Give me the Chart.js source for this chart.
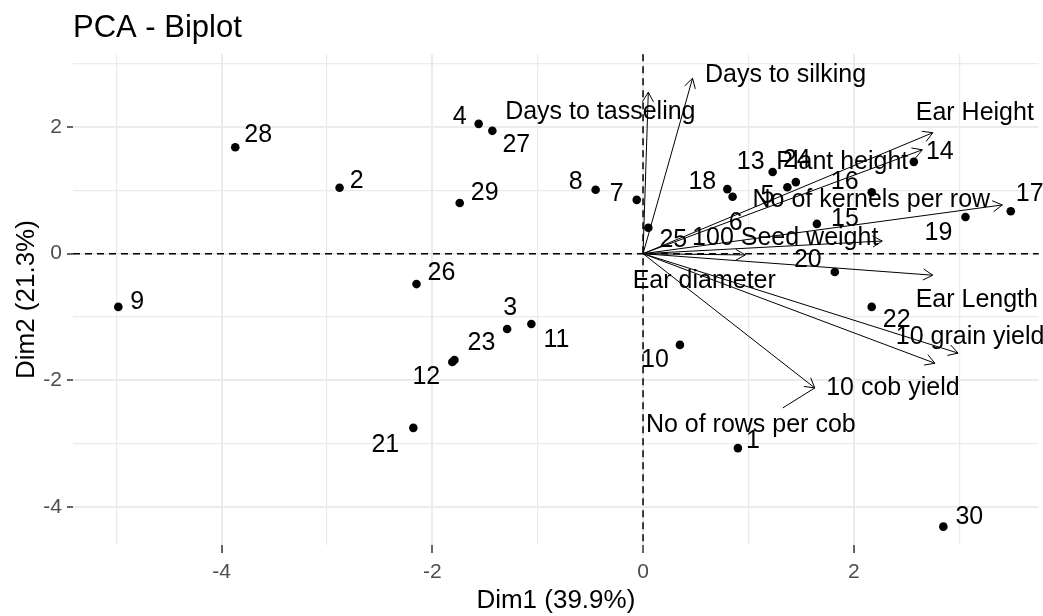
<!DOCTYPE html>
<html>
<head>
<meta charset="utf-8">
<script src="https://cdn.jsdelivr.net/npm/chart.js@4.4.0/dist/chart.umd.min.js"></script>
<style>
  html, body { margin: 0; padding: 0; background: #fff; }
</style>
</head>
<body>
<canvas id="myChart" width="1043" height="616"></canvas>
<script>
// individuos (coordenadas en Dim1 / Dim2)
const ids  = ["1","2","3","4","5","6","7","8","9","10","11","12","13","14","15",
              "16","17","18","19","20","21","22","23","24","25","26","27","28","29","30"];
const dim1 = [0.90,-2.88,-1.29,-1.56,1.37,0.85,-0.06,-0.45,-4.98,0.35,-1.06,-1.81,1.23,2.57,1.65,
              2.17,3.49,0.80,3.06,1.82,-2.18,2.17,-1.79,1.45,0.05,-2.15,-1.43,-3.87,-1.74,2.85];
const dim2 = [-3.07,1.04,-1.19,2.05,1.05,0.90,0.85,1.01,-0.84,-1.44,-1.11,-1.71,1.29,1.45,0.47,
              0.97,0.67,1.02,0.58,-0.29,-2.75,-0.84,-1.68,1.13,0.41,-0.48,1.94,1.68,0.80,-4.31];

// variables (flechas)
const variables = ["Days to tasseling","Days to silking","Ear Height","Plant height",
                   "No of kernels per row","100 Seed weight","Ear diameter","Ear Length",
                   "10 grain yield","10 cob yield","No of rows per cob"];
const varDim1 = [0.05,0.47,2.75,2.65,3.41,2.27,0.97,2.75,2.99,2.77,1.63];
const varDim2 = [2.55,2.77,1.91,1.64,0.77,0.20,-0.02,-0.34,-1.57,-1.73,-2.12];

// etiquetas de los ejes
const xTicks = [-4,-2,0,2];
const yTicks = [-4,-2,0,2];

// desplazamiento de cada etiqueta (px) respecto a su punto, como en ggrepel
const offInd = {
  "1":[15,-7],"2":[17,-7],"3":[3,-21],"4":[-19,-7],"5":[-20,9],"6":[3,26],"7":[-20,-6],
  "8":[-20,-8],"9":[19,-5],"10":[-25,15],"11":[25,16],"12":[-26,15],"13":[-22,-10],
  "14":[26,-10],"15":[28,-5],"16":[-27,-10],"17":[19,-17],"18":[-25,-7],"19":[-27,16],
  "20":[-27,-12],"21":[-28,17],"22":[25,13],"23":[27,-17],"24":[1,-22],"25":[25,12],
  "26":[25,-11],"27":[24,14],"28":[23,-12],"29":[25,-10],"30":[26,-10]
};
const offVar = {
  "Days to tasseling":[-48,20],"Days to silking":[93,-3],"Ear Height":[42,-20],
  "Plant height":[-80,12],"No of kernels per row":[-131,-5],"100 Seed weight":[-97,-3],
  "Ear diameter":[-41,26],"Ear Length":[44,25],"10 grain yield":[12,-16],
  "10 cob yield":[-42,25],"No of rows per cob":[-64,37]
};
// segmento de ggrepel (inicio respecto al centro de la etiqueta)
const segVar = { "No of rows per cob":[32,-17] };

const fuente = '"Liberation Sans", Arial, sans-serif';
Chart.defaults.font.family = fuente;

const puntos = ids.map((id, i) => ({x: dim1[i], y: dim2[i]}));

// una serie por flecha: del origen a la punta
const flechas = variables.map((v, i) => ({
  type: 'line',
  label: v,
  data: [{x: 0, y: 0}, {x: varDim1[i], y: varDim2[i]}],
  borderColor: '#000',
  borderWidth: 1,
  pointRadius: 0,
  fill: false,
  tension: 0
}));

const esPar = (c) => c.tick && Math.abs(c.tick.value % 2) === 0;

const biplot = {
  id: 'biplot',
  beforeDatasetsDraw(chart) {
    const {ctx, chartArea: a, scales: {x, y}} = chart;
    const x0 = x.getPixelForValue(0), y0 = y.getPixelForValue(0);
    ctx.save();
    ctx.strokeStyle = '#000';
    ctx.lineWidth = 1.5;
    ctx.setLineDash([7, 5]);
    ctx.beginPath();
    ctx.moveTo(a.left, y0); ctx.lineTo(a.right, y0);
    ctx.moveTo(x0, a.top); ctx.lineTo(x0, a.bottom);
    ctx.stroke();
    ctx.restore();
  },
  afterDatasetsDraw(chart) {
    const {ctx, scales: {x, y}} = chart;
    const x0 = x.getPixelForValue(0), y0 = y.getPixelForValue(0);
    ctx.save();
    // puntas de flecha abiertas
    ctx.strokeStyle = '#000';
    ctx.lineWidth = 1;
    const largo = 11, ang = Math.PI / 6;
    variables.forEach((v, i) => {
      const tx = x.getPixelForValue(varDim1[i]), ty = y.getPixelForValue(varDim2[i]);
      const t = Math.atan2(ty - y0, tx - x0);
      ctx.beginPath();
      ctx.moveTo(tx - largo * Math.cos(t - ang), ty - largo * Math.sin(t - ang));
      ctx.lineTo(tx, ty);
      ctx.lineTo(tx - largo * Math.cos(t + ang), ty - largo * Math.sin(t + ang));
      ctx.stroke();
      if (segVar[v]) {
        const o = offVar[v];
        ctx.beginPath();
        ctx.moveTo(tx + o[0] + segVar[v][0], ty + o[1] + segVar[v][1]);
        ctx.lineTo(tx, ty);
        ctx.stroke();
      }
    });
    // etiquetas
    ctx.fillStyle = '#000';
    ctx.font = '25px ' + fuente;
    ctx.textAlign = 'center';
    ctx.textBaseline = 'middle';
    ids.forEach((id, i) => {
      const o = offInd[id];
      ctx.fillText(id, x.getPixelForValue(dim1[i]) + o[0], y.getPixelForValue(dim2[i]) + o[1]);
    });
    variables.forEach((v, i) => {
      const o = offVar[v];
      ctx.fillText(v, x.getPixelForValue(varDim1[i]) + o[0], y.getPixelForValue(varDim2[i]) + o[1]);
    });
    ctx.restore();
  }
};

const grafica = document.getElementById('myChart').getContext('2d');
new Chart(grafica, {
  type: 'scatter',
  data: {
    datasets: [
      {
        label: 'Individuos',
        data: puntos,
        pointRadius: 4.3,
        pointBackgroundColor: '#000',
        pointBorderWidth: 0,
        showLine: false
      },
      ...flechas
    ]
  },
  options: {
    responsive: false,
    animation: false,
    devicePixelRatio: 1,
    events: [],
    layout: { padding: 0 },
    plugins: {
      legend: { display: false },
      tooltip: { enabled: false },
      title: {
        display: true,
        text: 'PCA - Biplot',
        align: 'start',
        fullSize: false,
        color: '#000',
        font: { size: 31, weight: 'normal' },
        padding: { top: 10, bottom: 7 }
      }
    },
    scales: {
      x: {
        type: 'linear',
        min: -5.41,
        max: 3.755,
        ticks: {
          stepSize: 1,
          includeBounds: false,
          autoSkip: false,
          maxRotation: 0,
          color: '#4D4D4D',
          font: { size: 21 },
          padding: 7,
          callback: (v) => xTicks.includes(v) ? String(v) : ''
        },
        grid: {
          color: '#EBEBEB',
          lineWidth: (c) => esPar(c) ? 2 : 1.2,
          tickLength: 8,
          tickWidth: 1.5,
          tickColor: (c) => esPar(c) ? '#333333' : 'rgba(0,0,0,0)'
        },
        border: { display: false },
        title: {
          display: true,
          text: 'Dim1 (39.9%)',
          color: '#000',
          font: { size: 26 },
          padding: { top: 0, bottom: 0 }
        },
        afterFit: (s) => { s.height = 71; }
      },
      y: {
        type: 'linear',
        min: -4.6,
        max: 3.15,
        ticks: {
          stepSize: 1,
          includeBounds: false,
          autoSkip: false,
          color: '#4D4D4D',
          font: { size: 21 },
          padding: 5,
          callback: (v) => yTicks.includes(v) ? String(v) : ''
        },
        grid: {
          color: '#EBEBEB',
          lineWidth: (c) => esPar(c) ? 2 : 1.2,
          tickLength: 6,
          tickWidth: 1.5,
          tickColor: (c) => esPar(c) ? '#333333' : 'rgba(0,0,0,0)'
        },
        border: { display: false },
        title: {
          display: true,
          text: 'Dim2 (21.3%)',
          color: '#000',
          font: { size: 26 },
          padding: { top: 11, bottom: 0 }
        },
        afterFit: (s) => { s.width = 73; }
      }
    }
  },
  plugins: [biplot]
});
</script>
</body>
</html>
